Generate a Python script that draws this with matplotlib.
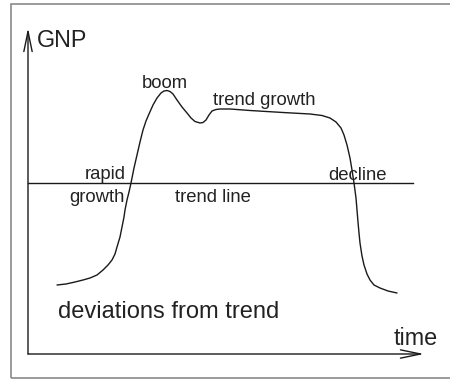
import matplotlib
matplotlib.use("Agg")
import matplotlib.pyplot as plt
from matplotlib.patches import Rectangle

plt.rcParams['font.family'] = ['Liberation Sans', 'DejaVu Sans']

# Business-cycle sketch: GNP over time (arbitrary units, origin at axes corner)
time = [29, 38, 47, 55, 62, 69, 75, 80, 84, 87, 89, 92, 94, 96, 97, 99, 101, 103,
        106, 109, 112, 115, 118, 121, 125, 129, 133, 136, 139, 142, 145, 149, 154,
        159, 163, 167, 172, 175, 178, 181, 184, 188, 192, 202, 222, 255, 282, 294,
        302, 308, 313, 316, 319, 322, 324, 326, 328, 329, 330, 331, 332, 334, 336,
        339, 342, 346, 352, 360, 369]
gnp = [69, 70, 72, 74, 76, 79, 84, 89, 94, 100, 107, 117, 127, 137, 144, 154,
       162, 171, 186, 199, 212, 224, 233, 240, 249, 256, 261, 263, 263.5, 262.5,
       260, 254, 247, 241, 236, 232.5, 231, 231.5, 234, 239, 243, 244.5, 245, 245,
       243.5, 241.5, 240, 238.5, 236, 232, 226, 219, 209, 196, 184, 171, 156, 144,
       132, 121, 111, 98, 89, 80, 74, 69, 66, 63, 61]

trend_level = 171
trend_span = [0, 385]
axis_x_end = 396
axis_y_end = 326

labels = [
    ("GNP", 9, 307, 'left', 16.8),
    ("boom", 137, 266, 'center', 13.3),
    ("trend growth", 185, 249, 'left', 13.3),
    ("rapid", 98, 175, 'right', 13.3),
    ("growth", 97, 152, 'right', 13.3),
    ("trend line", 147, 152, 'left', 13.3),
    ("decline", 300, 174, 'left', 13.3),
    ("deviations from trend", 30, 36, 'left', 17),
    ("time", 366, 9, 'left', 16.8),
]

fig = plt.figure(figsize=(4.5, 3.8), dpi=100)
ax = fig.add_axes([0, 0, 1, 1])
ax.set_xlim(-28, 422)
ax.set_ylim(-26, 354)
ax.axis('off')

# outer frame (right side runs past the image edge)
fig.patches.append(Rectangle((10.5 / 450, 2 / 380), 445 / 450, 374.5 / 380,
                             transform=fig.transFigure, fill=False,
                             edgecolor='#8a8a8a', lw=1.2))

line_col = '#1a1a1a'
text_col = '#222222'

# axes with open arrowheads
arrow = dict(arrowstyle='->,head_length=1.45,head_width=0.3', color=line_col,
             lw=1.0, mutation_scale=10, shrinkA=0, shrinkB=0)
ax.annotate('', xy=(0, axis_y_end), xytext=(0, 0), arrowprops=arrow)
ax.annotate('', xy=(axis_x_end, 0), xytext=(0, 0), arrowprops=arrow)

# trend line
ax.plot(trend_span, [trend_level, trend_level], color=line_col, lw=1.0)

# GNP curve
ax.plot(time, gnp, color=line_col, lw=1.0, solid_joinstyle='round',
        solid_capstyle='round')

for txt, x, y, ha, fs in labels:
    ax.text(x, y, txt, ha=ha, va='baseline', fontsize=fs, color=text_col)

fig.savefig('out.png', dpi=100)
